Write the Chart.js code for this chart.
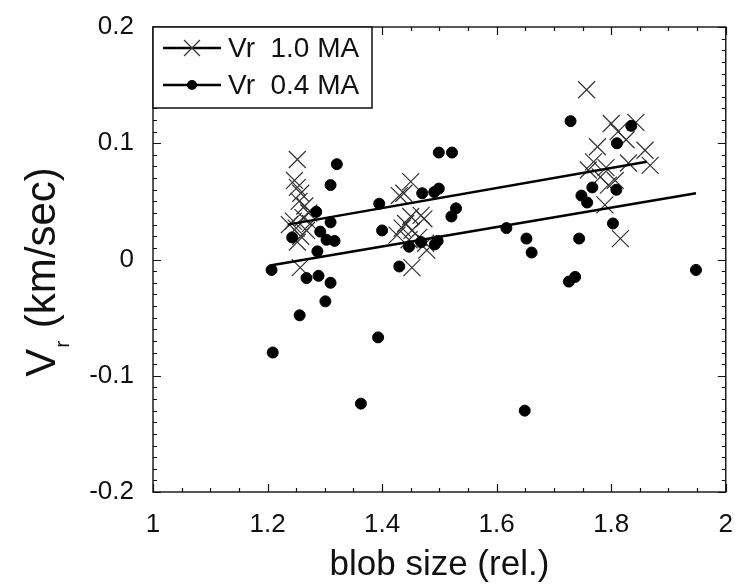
<!DOCTYPE html>
<html>
<head>
  <meta charset="utf-8">
  <title>Vr vs blob size</title>
  <script src="https://cdn.jsdelivr.net/npm/chart.js@4.4.0/dist/chart.umd.min.js"></script>
  <style>
    html, body { margin: 0; padding: 0; background: #fff; }
    #wrap { width: 742px; height: 587px; }
  </style>
</head>
<body>
<div id="wrap"><canvas id="myChart" width="742" height="587"></canvas></div>
<script>
  // Vr 1.0 MA (crosses)
  var size10 = [1.252, 1.247, 1.252, 1.258, 1.255, 1.265, 1.272, 1.262, 1.245, 1.238, 1.250, 1.268, 1.258, 1.252, 1.257, 1.275,
                1.450, 1.438, 1.430, 1.450, 1.468, 1.473, 1.441, 1.426, 1.452, 1.464, 1.478, 1.452, 1.435, 1.447, 1.476,
                1.757, 1.800, 1.843, 1.812, 1.826, 1.776, 1.859, 1.769, 1.791, 1.830, 1.868, 1.781, 1.807, 1.795, 1.789, 1.816, 1.760];
  var vr10   = [0.086, 0.068, 0.062, 0.057, 0.050, 0.046, 0.040, 0.036, 0.033, 0.030, 0.027, 0.025, 0.020, 0.015, -0.007, 0.031,
                0.067, 0.057, 0.055, 0.037, 0.038, 0.035, 0.031, 0.021, 0.025, 0.019, 0.008, -0.007, 0.027, 0.017, 0.014,
                0.146, 0.117, 0.118, 0.110, 0.103, 0.097, 0.094, 0.084, 0.079, 0.083, 0.081, 0.071, 0.068, 0.064, 0.047, 0.018, 0.077];

  // Vr 0.4 MA (dots)
  var size04 = [1.207, 1.209, 1.256, 1.268, 1.289, 1.310, 1.301, 1.287, 1.303, 1.317, 1.292, 1.243, 1.285, 1.310, 1.321, 1.310,
                1.393, 1.363, 1.395, 1.400, 1.430, 1.447, 1.468, 1.492, 1.497, 1.470, 1.491, 1.499, 1.529, 1.521, 1.499, 1.522,
                1.617, 1.649, 1.652, 1.661, 1.729, 1.835, 1.810, 1.767, 1.809, 1.748, 1.758, 1.803, 1.744, 1.737, 1.726, 1.948];
  var vr04   = [-0.009, -0.080, -0.048, -0.016, -0.014, -0.020, -0.036, 0.007, 0.017, 0.016, 0.024, 0.019, 0.041, 0.064, 0.082, 0.032,
                -0.067, -0.124, 0.048, 0.025, -0.006, 0.011, 0.015, 0.013, 0.016, 0.057, 0.058, 0.061, 0.044, 0.037, 0.092, 0.092,
                0.027, -0.130, 0.018, 0.006, 0.119, 0.115, 0.100, 0.062, 0.060, 0.055, 0.049, 0.031, 0.018, -0.015, -0.019, -0.009];

  // fit lines (end points)
  var fit10X = [1.235, 1.862];
  var fit10Y = [0.030, 0.084];
  var fit04X = [1.207, 1.948];
  var fit04Y = [-0.005, 0.057];

  var xTickLabels = ['1', '1.2', '1.4', '1.6', '1.8', '2'];
  var yTickLabels = ['-0.2', '-0.1', '0', '0.1', '0.2'];

  var FONT = "'Liberation Sans', Arial, sans-serif";

  function pts(xs, ys) {
    var out = [];
    for (var i = 0; i < xs.length; i++) out.push({x: xs[i], y: ys[i]});
    return out;
  }

  function labelFor(v, list) {
    for (var i = 0; i < list.length; i++) {
      if (Math.abs(parseFloat(list[i]) - v) < 1e-6) return list[i];
    }
    return '';
  }

  // inward ticks on all four sides, frame, legend box, y title with subscript
  var framePlugin = {
    id: 'frame',
    afterDatasetsDraw: function(chart) {
      var ctx = chart.ctx, a = chart.chartArea;
      var xs = chart.scales.x, ys = chart.scales.y;
      ctx.save();
      ctx.strokeStyle = '#111';
      ctx.lineWidth = 1.4;
      ctx.strokeRect(a.left, a.top, a.right - a.left, a.bottom - a.top);
      ctx.lineWidth = 1.2;
      ctx.beginPath();
      for (var v = 1; v <= 2.0001; v += 0.05) {
        var px = Math.round(xs.getPixelForValue(v)) + 0.5;
        var major = labelFor(Math.round(v * 100) / 100, xTickLabels) !== '';
        var len = major ? 8 : 4;
        ctx.moveTo(px, a.bottom); ctx.lineTo(px, a.bottom - len);
        ctx.moveTo(px, a.top); ctx.lineTo(px, a.top + len);
      }
      for (var k = -20; k <= 20; k++) {
        var py = Math.round(ys.getPixelForValue(k / 100)) + 0.5;
        var len2 = (k % 10 === 0) ? 8 : 4;
        ctx.moveTo(a.left, py); ctx.lineTo(a.left + len2, py);
        ctx.moveTo(a.right, py); ctx.lineTo(a.right - len2, py);
      }
      ctx.stroke();

      // legend
      var lx = a.left, ly = a.top, lw = 219, lh = 81;
      ctx.fillStyle = '#fff';
      ctx.fillRect(lx, ly, lw, lh);
      ctx.lineWidth = 1.5;
      ctx.strokeStyle = '#111';
      ctx.strokeRect(lx, ly, lw, lh);
      var rows = [
        {y: ly + 21, text: 'Vr  1.0 MA', mark: 'cross'},
        {y: ly + 58, text: 'Vr  0.4 MA', mark: 'dot'}
      ];
      rows.forEach(function(r) {
        ctx.strokeStyle = '#000';
        ctx.lineWidth = 2.5;
        ctx.beginPath();
        ctx.moveTo(lx + 10, r.y); ctx.lineTo(lx + 68, r.y);
        ctx.stroke();
        if (r.mark === 'cross') {
          ctx.strokeStyle = '#333';
          ctx.lineWidth = 1.2;
          ctx.beginPath();
          ctx.moveTo(lx + 31, r.y - 8); ctx.lineTo(lx + 47, r.y + 8);
          ctx.moveTo(lx + 47, r.y - 8); ctx.lineTo(lx + 31, r.y + 8);
          ctx.stroke();
        } else {
          ctx.fillStyle = '#000';
          ctx.beginPath();
          ctx.arc(lx + 39, r.y, 5, 0, Math.PI * 2);
          ctx.fill();
        }
        ctx.fillStyle = '#111';
        ctx.font = '28px ' + FONT;
        ctx.textAlign = 'left';
        ctx.textBaseline = 'middle';
        ctx.fillText(r.text, lx + 75, r.y + 1);
      });

      // y axis title: V_r (km/sec)
      ctx.translate(43, 273);
      ctx.rotate(-Math.PI / 2);
      ctx.fillStyle = '#111';
      ctx.textBaseline = 'middle';
      ctx.textAlign = 'left';
      var big = '42px ' + FONT, small = '21px ' + FONT;
      var t1 = 'V', t3 = ' (km/sec)';
      ctx.font = big;
      var w1 = ctx.measureText(t1).width;
      var w3 = ctx.measureText(t3).width;
      ctx.font = small;
      var w2 = ctx.measureText('r').width;
      var x0 = -(w1 + w2 + w3) / 2;
      ctx.font = big;
      ctx.fillText(t1, x0, 0);
      ctx.fillText(t3, x0 + w1 + w2 + 2, 0);
      ctx.font = small;
      ctx.fillText('r', x0 + w1 + 1, 20);
      ctx.restore();
    }
  };

  var ctx = document.getElementById('myChart').getContext('2d');
  var chart = new Chart(ctx, {
    type: 'scatter',
    data: {
      datasets: [
        {
          label: 'fit 1.0 MA',
          data: pts(fit10X, fit10Y),
          showLine: true,
          borderColor: '#000',
          borderWidth: 2.5,
          pointRadius: 0,
          order: 0
        },
        {
          label: 'fit 0.4 MA',
          data: pts(fit04X, fit04Y),
          showLine: true,
          borderColor: '#000',
          borderWidth: 2.5,
          pointRadius: 0,
          order: 0
        },
        {
          label: 'Vr  0.4 MA',
          data: pts(size04, vr04),
          pointStyle: 'circle',
          pointRadius: 5.5,
          pointBackgroundColor: '#000',
          pointBorderColor: '#000',
          pointBorderWidth: 1,
          order: 1
        },
        {
          label: 'Vr  1.0 MA',
          data: pts(size10, vr10),
          pointStyle: 'crossRot',
          pointRadius: 12,
          pointBorderColor: '#333',
          pointBorderWidth: 1.2,
          order: 2
        }
      ]
    },
    options: {
      responsive: false,
      animation: false,
      layout: { padding: { left: 0, top: 27, right: 16, bottom: 0 } },
      plugins: {
        legend: { display: false },
        tooltip: { enabled: false }
      },
      scales: {
        x: {
          type: 'linear',
          min: 1,
          max: 2,
          grid: { display: false },
          border: { display: false },
          afterFit: function(s) { s.height = 95; },
          ticks: {
            stepSize: 0.05,
            autoSkip: false,
            maxRotation: 0,
            padding: 9,
            color: '#111',
            font: { family: FONT, size: 26 },
            callback: function(v) { return labelFor(Math.round(v * 100) / 100, xTickLabels); }
          },
          title: {
            display: true,
            text: 'blob size (rel.)',
            color: '#111',
            font: { family: FONT, size: 35 },
            padding: { top: 0, bottom: 1 }
          }
        },
        y: {
          type: 'linear',
          min: -0.2,
          max: 0.2,
          grid: { display: false },
          border: { display: false },
          afterFit: function(s) { s.width = 153; },
          ticks: {
            stepSize: 0.01,
            autoSkip: false,
            padding: 11,
            color: '#111',
            font: { family: FONT, size: 26 },
            callback: function(v) { return labelFor(Math.round(v * 100) / 100, yTickLabels); }
          }
        }
      }
    },
    plugins: [framePlugin]
  });
</script>
</body>
</html>
